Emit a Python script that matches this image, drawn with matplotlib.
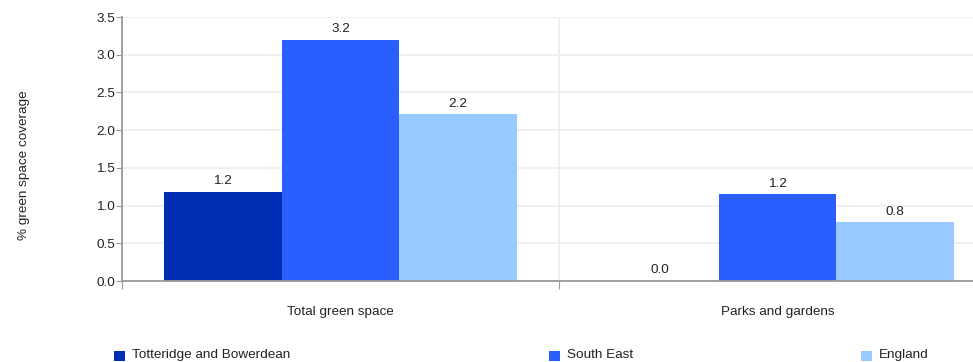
import numpy as np
import matplotlib.pyplot as plt
from matplotlib.patches import Rectangle

plt.rcParams['font.family'] = ['Liberation Sans', 'DejaVu Sans']

# === Daten ===
categories = ['Total green space', 'Parks and gardens']
series_names = ['Totteridge and Bowerdean', 'South East', 'England']
values = {
    'Totteridge and Bowerdean': [1.18, 0.0],
    'South East': [3.2, 1.15],
    'England': [2.21, 0.78],
}
labels = {
    'Totteridge and Bowerdean': ['1.2', '0.0'],
    'South East': ['3.2', '1.2'],
    'England': ['2.2', '0.8'],
}
colors = ['#002db3', '#295fff', '#99caff']
yticks = [0.0, 0.5, 1.0, 1.5, 2.0, 2.5, 3.0, 3.5]

FS = 9.7

# === Plot ===
W, H = 973, 362
fig = plt.figure(figsize=(W / 100, H / 100), dpi=100)
ax = fig.add_axes([122 / W, 1 - 281 / H, 1 - 122 / W, (281 - 17) / H])

x = np.arange(len(categories))
bw = 0.269
for i, name in enumerate(series_names):
    pos = x + (i - 1) * bw
    ax.bar(pos, values[name], width=bw, color=colors[i], zorder=3)
    for xp, v, lab in zip(pos, values[name], labels[name]):
        ax.text(xp, v + 0.06, lab, ha='center', va='bottom', fontsize=FS, color='#222222', zorder=4)

ax.set_ylim(0, 3.5)
ax.set_xlim(-0.5, 0.5 + (W - 559) / 437)
ax.set_yticks(yticks)
ax.set_yticklabels([f'{v:.1f}' for v in yticks], fontsize=FS, color='#222222')
ax.set_xticks([-0.5, 0.5])
ax.set_xticklabels([])
ax.tick_params(axis='y', length=4, color='#999999', pad=1)
ax.tick_params(axis='x', length=6, color='#999999')

for xc, cat in zip(x, categories):
    ax.text(xc, -0.41, cat, ha='center', va='center', fontsize=FS, color='#222222',
            transform=ax.transData, clip_on=False)

ax.grid(axis='y', color='#eeeeee', linewidth=1.2, zorder=0)
ax.axvline(0.5, color='#eeeeee', linewidth=1.2, zorder=0)
for s in ['top', 'right']:
    ax.spines[s].set_visible(False)
for s in ['left', 'bottom']:
    ax.spines[s].set_color('#999999')
    ax.spines[s].set_linewidth(1.3)
    ax.spines[s].set_zorder(5)

fig.text(24 / W, 1 - 165 / H, '% green space coverage', rotation=90, ha='center', va='center',
         fontsize=FS, color='#222222')

# === Legende ===
leg_x = [114, 549, 861]
for lx, name, c in zip(leg_x, series_names, colors):
    fig.add_artist(Rectangle((lx / W, 1 - 361 / H), 11 / W, 10 / H, transform=fig.transFigure,
                             color=c, linewidth=0))
    fig.text((lx + 18) / W, 1 - 355 / H, name, ha='left', va='center', fontsize=FS, color='#222222')

fig.savefig('out.png', dpi=100)
